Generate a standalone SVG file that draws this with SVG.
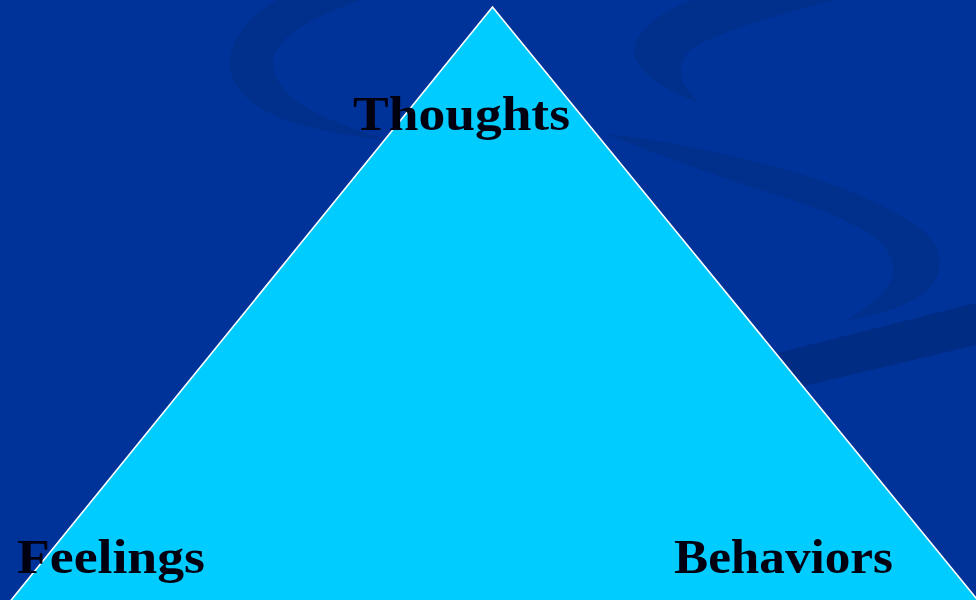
<svg xmlns="http://www.w3.org/2000/svg" width="976" height="600" viewBox="0 0 976 600">
<style>
.bg{fill:#003399}
.swirl{fill:#002F8C}
.swirl2{fill:#002C84}
.tri{fill:#00CCFF;stroke:#FFFFFF;stroke-width:1.6}
.lbl{font-family:"Liberation Serif","Times New Roman",serif;font-weight:bold;font-size:49px;fill:#000010}
</style>
<rect class="bg" x="0" y="0" width="976" height="600"/>
<g id="background-swirls">
<path class="swirl" d="M277,0 L360,0 C320,15 285,30 274,55 C268,75 285,95 310,110 C340,125 370,135 395,141 C360,138 320,132 280,118 C250,105 232,88 230,68 C228,40 250,15 277,0 Z"/>
<path class="swirl" d="M693,0 L833,0 C780,15 720,30 690,50 C675,65 678,85 700,103 C670,92 645,78 636,60 C628,40 650,15 693,0 Z"/>
<path class="swirl" d="M605,134 C650,138 700,148 760,163 C830,180 890,205 925,232 C945,252 943,275 928,290 C910,305 880,315 847,320 C870,305 890,292 893,273 C895,255 880,235 853,225 C830,212 800,202 770,193 C720,177 660,155 605,134 Z"/>
<path class="swirl2" d="M976,303 L976,345 L800,387 L690,412 L690,375 L777,353 Z"/>
</g>
<g id="node-triangle">
<polygon class="tri" points="492.5,7 994,620 -5,620"/>
</g>
<g id="connectors"></g>
<g id="node-thoughts">
<text class="lbl" x="353" y="130" textLength="217" lengthAdjust="spacingAndGlyphs">Thoughts</text>
</g>
<g id="node-feelings">
<text class="lbl" x="17" y="573" textLength="188" lengthAdjust="spacingAndGlyphs">Feelings</text>
</g>
<g id="node-behaviors">
<text class="lbl" x="674" y="573" textLength="219" lengthAdjust="spacingAndGlyphs">Behaviors</text>
</g>
</svg>
